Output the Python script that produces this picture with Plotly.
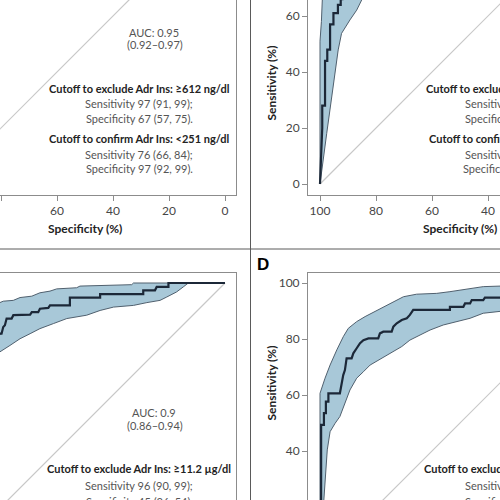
import plotly.graph_objects as go

# ---------------- data (specificity %, sensitivity %) ----------------
# Panel B (top right)
b_spec = [100, 99.2, 99.2, 98.2, 98.2, 97.4, 97.4, 96.4, 96.4, 95.2, 95.2, 93.6, 93.6, 92.6, 92.6, 92.0, 92.0]
b_sens = [0, 20, 28, 28, 44, 44, 48, 48, 57, 57, 61, 61, 64, 64, 66, 66, 70]
b_up_spec = [100, 100, 99.5, 99.2, 99.0]
b_up_sens = [0, 51, 58, 66, 70]
b_lo_spec = [100, 97.6, 95.2, 93.5, 92.3, 89.3, 86.9, 85.1, 83.0]
b_lo_sens = [0, 18.1, 36, 47.9, 53.8, 58.6, 62.1, 65.7, 70]

# Panel C (bottom left)
c_spec = [0, 20.2, 20.2, 24.4, 25.0, 29.2, 29.2, 44.6, 44.6, 55.4, 55.4, 62.5, 63.1, 66.1, 66.7, 69.0,
          69.6, 75.6, 76.2, 78.0, 78.6, 79.2, 79.8, 80.4, 82.0]
c_sens = [100, 100, 98.6, 98.6, 97.4, 97.4, 96.0, 96.0, 94.8, 94.8, 92.0, 92.0, 91.1, 90.8, 89.6, 89.6,
          88.7, 88.5, 87.3, 87.3, 84.9, 84.3, 81.9, 81.9, 80.0]
c_up_spec = [0, 32.7, 33.3, 51.8, 53.0, 60.1, 62.5, 66.1, 69.0, 73.2, 75.6, 79.2, 80.4, 82.0]
c_up_sens = [100, 100, 99.4, 98.9, 98.3, 97.9, 97.1, 96.5, 95.3, 94.8, 93.8, 93.5, 93.0, 92.5]
c_lo_spec = [0, 13.1, 14.9, 17.3, 20.8, 23.2, 27.9, 32.7, 39.8, 44.6, 49.4, 56.5, 61.3, 66.1, 69.6, 73.2, 76.8, 80.4, 82.0]
c_lo_sens = [100, 100, 98.6, 96.8, 95.0, 93.8, 93.0, 92.0, 91.4, 90.2, 88.5, 87.3, 85.5, 83.7, 81.9, 80.1, 77.7, 75.4, 74.0]

# Panel D (bottom right)
d_spec = [99.6, 99.6, 98.6, 98.6, 97.9, 97.9, 97.0, 97.0, 92.9, 92.3, 91.7, 91.1, 90.5, 88.7, 88.1, 86.9, 85.7,
          84.5, 82.7, 79.2, 78.6, 77.4, 74.4, 73.8, 72.6, 70.8, 69.0, 67.9, 66.7, 53.6, 53.6, 48.8, 48.2, 46.4,
          45.8, 41.7, 41.1, 30.0]
d_sens = [20, 49.3, 49.3, 53.5, 53.5, 57.6, 57.6, 60.6, 60.6, 64.2, 67.1, 68.9, 73.1, 73.1, 74.9, 76.7, 78.5,
          79.6, 80.2, 80.2, 82.0, 82.6, 82.6, 84.4, 85.6, 86.8, 87.4, 88.6, 90.4, 90.4, 91.5, 91.5, 92.7, 92.7,
          93.9, 93.9, 94.8, 94.8]
d_up_spec = [100, 100, 98.2, 96.4, 94.0, 91.7, 89.9, 86.9, 83.9, 80.4, 77.4, 73.8, 70.2, 65.5, 58.3, 53.6, 47.6, 41.7, 35.7, 30.0]
d_up_sens = [20, 60.6, 66.0, 70.7, 76.1, 80.8, 83.8, 86.2, 88.0, 89.8, 91.5, 93.3, 95.1, 96.0, 96.3, 96.9, 97.7, 98.7, 98.9, 99.3]
d_lo_spec = [98.8, 97.4, 96.4, 94.6, 92.9, 91.7, 89.3, 86.9, 84.5, 82.1, 79.2, 76.8, 73.8, 70.8, 67.9, 64.3, 60.7, 56.0, 51.2, 46.4, 41.7, 35.7, 30.0]
d_lo_sens = [20, 40.4, 46.9, 49.9, 52.3, 55.8, 61.8, 66.0, 68.3, 70.7, 72.5, 73.7, 75.5, 77.3, 79.6, 81.4, 83.2, 85.0, 86.2, 87.4, 89.2, 89.8, 90.5]

diag_spec = [100, 0]
diag_sens = [0, 100]

tick_vals = [100, 80, 60, 40, 20, 0]

# ---------------- styling ----------------
W = H = 500
FONT = "Lato"
BAND_FILL = "rgb(168,200,216)"
BAND_EDGE = "rgb(80,96,110)"
CURVE = "rgb(28,40,56)"
DIAG = "rgb(200,200,200)"
AXIS = "rgb(140,140,140)"
TXT_DARK = "rgb(35,35,35)"
TXT_GRAY = "rgb(85,85,85)"
TS = 11


def fx(p):
    return p / W


def fy(p):
    return 1 - p / H


fig = go.Figure()

S = 2.8  # pixels per percent
left_xrange = [225 / S, (225 - 236) / S]
right_xrange = [100 + (320 - 308) / S, 100 - (500 - 320) / S]
top_yrange = [(184 - 195) / S, 184 / S]
bot_yrange = [100 - (500 - 283) / S, 100 + (283 - 273) / S]

xdom_left = [0, fx(236)]
xdom_right = [fx(308), 1]
ydom_top = [fy(195), 1]
ydom_bot = [0, fy(273)]


def add_panel(idx, xs, ys, us, uy, ls, ly):
    xa = "x" if idx == 1 else f"x{idx}"
    ya = "y" if idx == 1 else f"y{idx}"
    fig.add_trace(go.Scatter(x=diag_spec, y=diag_sens, mode="lines",
                             line=dict(color=DIAG, width=1.2), xaxis=xa, yaxis=ya,
                             showlegend=False, hoverinfo="skip"))
    if xs is not None:
        px_ = list(us) + list(reversed(ls))
        py_ = list(uy) + list(reversed(ly))
        fig.add_trace(go.Scatter(x=px_, y=py_, mode="lines", fill="toself",
                                 fillcolor=BAND_FILL, line=dict(color=BAND_EDGE, width=1),
                                 xaxis=xa, yaxis=ya, showlegend=False, hoverinfo="skip"))
        fig.add_trace(go.Scatter(x=xs, y=ys, mode="lines",
                                 line=dict(color=CURVE, width=2.2), xaxis=xa, yaxis=ya,
                                 showlegend=False, hoverinfo="skip"))


add_panel(1, None, None, None, None, None, None)
add_panel(2, b_spec, b_sens, b_up_spec, b_up_sens, b_lo_spec, b_lo_sens)
add_panel(3, c_spec, c_sens, c_up_spec, c_up_sens, c_lo_spec, c_lo_sens)
add_panel(4, d_spec, d_sens, d_up_spec, d_up_sens, d_lo_spec, d_lo_sens)

tickfont = dict(family=FONT, size=12, color="rgb(70,70,70)")
base = dict(showgrid=False, zeroline=False, showline=True, linecolor=AXIS, linewidth=1,
            tickfont=tickfont, tickcolor=AXIS, ticklen=5, tickwidth=1)

fig.update_layout(
    width=W, height=H, margin=dict(l=0, r=0, t=0, b=0, autoexpand=False),
    paper_bgcolor="white", plot_bgcolor="white",
    xaxis=dict(base, domain=xdom_left, range=left_xrange, anchor="y", ticks="outside",
               tickvals=tick_vals),
    yaxis=dict(base, domain=ydom_top, range=top_yrange, anchor="x", side="right", ticks="",
               showticklabels=False),
    xaxis2=dict(base, domain=xdom_right, range=right_xrange, anchor="y2", ticks="outside",
                tickvals=tick_vals),
    yaxis2=dict(base, domain=ydom_top, range=top_yrange, anchor="x2", ticks="outside",
                tickvals=tick_vals),
    xaxis3=dict(base, domain=xdom_left, range=left_xrange, anchor="y3", side="top", ticks="",
                showticklabels=False),
    yaxis3=dict(base, domain=ydom_bot, range=bot_yrange, anchor="x3", side="right", ticks="",
                showticklabels=False),
    xaxis4=dict(base, domain=xdom_right, range=right_xrange, anchor="y4", side="top", ticks="",
                showticklabels=False),
    yaxis4=dict(base, domain=ydom_bot, range=bot_yrange, anchor="x4", ticks="outside",
                tickvals=tick_vals),
)

# divider lines
fig.add_shape(type="line", xref="paper", yref="paper", x0=fx(250.5), x1=fx(250.5), y0=0, y1=1,
              line=dict(color="rgb(90,90,90)", width=1))
fig.add_shape(type="line", xref="paper", yref="paper", x0=0, x1=1, y0=fy(249), y1=fy(249),
              line=dict(color="rgb(90,90,90)", width=1))


def note(x, y, text, bold=False, size=TS, color=TXT_GRAY, anchor="center", family=FONT):
    if bold:
        text = f"<b>{text}</b>"
    fig.add_annotation(x=fx(x), y=fy(y), xref="paper", yref="paper", text=text,
                       showarrow=False, xanchor=anchor, yanchor="middle",
                       font=dict(family=family, size=size, color=color))


# Panel A texts
note(154, 32, "AUC: 0.95")
note(155, 45, "(0.92–0.97)")
note(139, 89, "Cutoff to exclude Adr Ins: ≥612 ng/dl", bold=True, color=TXT_DARK)
note(139, 104, "Sensitivity 97 (91, 99);")
note(139, 118, "Specificity 67 (57, 75).")
note(139, 138, "Cutoff to confirm Adr Ins: <251 ng/dl", bold=True, color=TXT_DARK)
note(139, 154, "Sensitivity 76 (66, 84);")
note(139, 168, "Specificity 97 (92, 99).")
note(85, 229, "Specificity (%)", bold=True, color=TXT_DARK, size=12)

# Panel B texts (cut by the right edge)
note(424, 89, "Cutoff to exclude Adr Ins:", bold=True, color=TXT_DARK, anchor="left")
note(463, 104, "Sensitivity", anchor="left")
note(463, 118, "Specificity", anchor="left")
note(427, 138, "Cutoff to confirm Adr Ins:", bold=True, color=TXT_DARK, anchor="left")
note(463, 154, "Sensitivity", anchor="left")
note(461, 168, "Specificity", anchor="left")
note(460, 229, "Specificity (%)", bold=True, color=TXT_DARK, size=12)
fig.add_annotation(x=fx(271), y=fy(44), xref="paper", yref="paper", text="<b>Sensitivity (%)</b>",
                   showarrow=False, textangle=-90, font=dict(family=FONT, size=12, color=TXT_DARK))

# Panel C texts
note(154, 412, "AUC: 0.9")
note(155, 425, "(0.86–0.94)")
note(139, 468, "Cutoff to exclude Adr Ins: ≥11.2 µg/dl", bold=True, color=TXT_DARK)
note(139, 485, "Sensitivity 96 (90, 99);")
note(139, 501, "Specificity 45 (36, 54).")

# Panel D texts
note(263, 264, "D", bold=True, size=17, color="black", family="Liberation Sans")
note(422, 468, "Cutoff to exclude Adr Ins:", bold=True, color=TXT_DARK, anchor="left")
note(463, 485, "Sensitivity", anchor="left")
note(463, 501, "Specificity", anchor="left")
fig.add_annotation(x=fx(271), y=fy(423), xref="paper", yref="paper", text="<b>Sensitivity (%)</b>",
                   showarrow=False, textangle=-90, font=dict(family=FONT, size=12, color=TXT_DARK))

fig.write_html("out.html", config={"displayModeBar": False},
               post_script="document.body.style.margin='0';document.body.style.padding='0';")
